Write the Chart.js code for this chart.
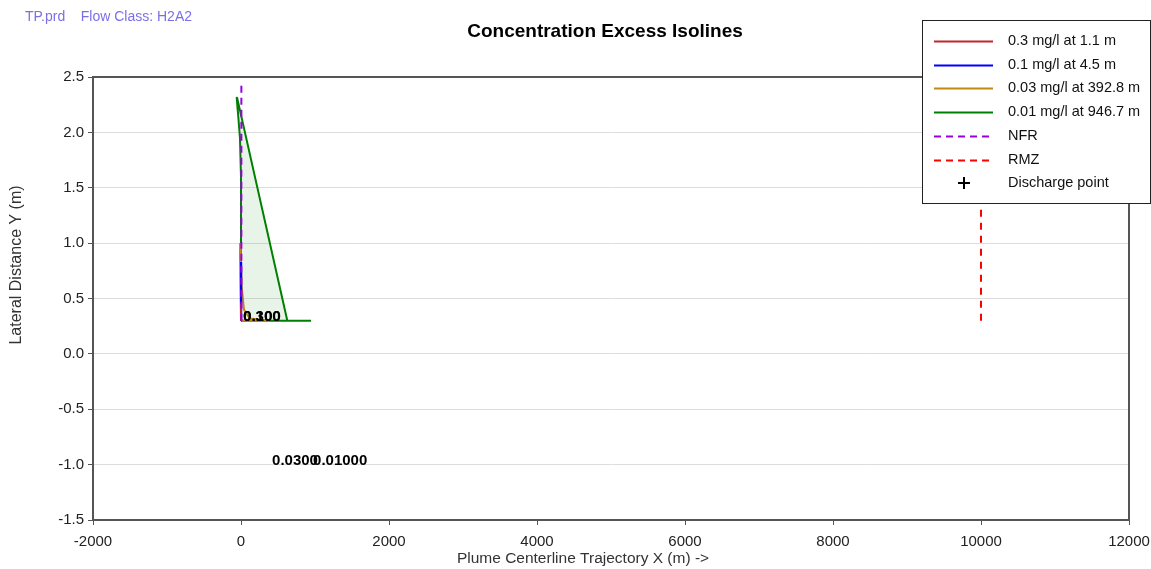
<!DOCTYPE html>
<html>
<head>
<meta charset="utf-8">
<script src="https://cdn.jsdelivr.net/npm/chart.js@4.4.1/dist/chart.umd.min.js"></script>
<style>
  html, body { margin: 0; padding: 0; background: #ffffff; }
  #wrap { width: 1151px; height: 569px; position: relative; }
</style>
</head>
<body>
<div id="wrap"><canvas id="c" width="1151" height="569"></canvas></div>
<script>
// ---- Data ----
const headerText = 'TP.prd    Flow Class: H2A2';
const chartTitle = 'Concentration Excess Isolines';
const xAxisTitle = 'Plume Centerline Trajectory X (m) ->';
const yAxisTitle = 'Lateral Distance Y (m)';

const xMin = -2000, xMax = 12000, xStep = 2000;
const yMin = -1.5, yMax = 2.5, yStep = 0.5;

// isoline outlines
const redX = [0, 0, 0.6, 1.1, 0];
const redY = [0.3, 0.45, 0.42, 0.3, 0.3];
const blueX = [0, -2, 0, 3, 4.5, 0];
const blueY = [0.3, 0.7, 0.83, 0.6, 0.3, 0.3];
const orangeX = [0, -8, -14, -12, -4, 10, 40, 120, 392.8, 0];
const orangeY = [0.3, 0.7, 0.88, 1.0, 0.9, 0.6, 0.4, 0.32, 0.3, 0.3];
const greenX = [0, 0, -14, -58, -45, -36, 626, 946.7, 0];
const greenY = [0.3, 1.6, 1.95, 2.32, 2.2, 2.265, 0.3, 0.3, 0.3];

// boundaries
const nfrX = [5, 5];
const nfrY = [0.3, 2.45];
const rmzX = [10000, 10000];
const rmzY = [0.3, 2.45];

// isoline value labels
const labelTexts = ['0.300', '0.100', '0.0300', '0.01000'];
const labelX = [1.1, 4.5, 392.8, 946.7];
const labelY = [0.3, 0.3, -1.0, -1.0];

// legend
const legendLabels = ['0.3 mg/l at 1.1 m', '0.1 mg/l at 4.5 m', '0.03 mg/l at 392.8 m', '0.01 mg/l at 946.7 m', 'NFR', 'RMZ', 'Discharge point'];
const legendColors = ['#c0272d', '#0000ff', '#c08a10', '#008000', '#9900dd', '#ff0000', '#000000'];
const legendKinds = ['line', 'line', 'line', 'line', 'dash', 'dash', 'plus'];

const FONT = "'Liberation Sans', Arial, sans-serif";

function pts(xs, ys) { return xs.map((x, i) => ({ x: x, y: ys[i] })); }

const datasets = [
  { label: legendLabels[0], data: pts(redX, redY), borderColor: legendColors[0], borderWidth: 2, order: 1 },
  { label: legendLabels[1], data: pts(blueX, blueY), borderColor: legendColors[1], borderWidth: 2, order: 2 },
  { label: legendLabels[2], data: pts(orangeX, orangeY), borderColor: legendColors[2], borderWidth: 2, order: 3 },
  { label: legendLabels[3], data: pts(greenX, greenY), borderColor: legendColors[3], borderWidth: 2, order: 4,
    fill: 'shape', backgroundColor: 'rgba(0,128,0,0.085)' },
  { label: legendLabels[4], data: pts(nfrX, nfrY), borderColor: legendColors[4], borderWidth: 2, borderDash: [7, 5], order: 0 },
  { label: legendLabels[5], data: pts(rmzX, rmzY), borderColor: legendColors[5], borderWidth: 2, borderDash: [7, 6], order: 0 }
].map(d => Object.assign({ showLine: true, pointRadius: 0, pointHoverRadius: 0, tension: 0, fill: false }, d));

const decorPlugin = {
  id: 'decor',
  beforeDatasetsDraw(chart) {
    const ctx = chart.ctx, a = chart.chartArea;
    ctx.save();
    ctx.strokeStyle = '#555';
    ctx.lineWidth = 2;
    ctx.beginPath();
    ctx.moveTo(a.left, a.top);
    ctx.lineTo(a.right, a.top);
    ctx.lineTo(a.right, a.bottom);
    ctx.stroke();
    ctx.restore();
  },
  afterDatasetsDraw(chart) {
    const ctx = chart.ctx, xs = chart.scales.x, ys = chart.scales.y;
    ctx.save();
    ctx.font = 'bold 15px ' + FONT;
    ctx.fillStyle = '#000';
    ctx.textAlign = 'left';
    ctx.textBaseline = 'alphabetic';
    labelTexts.forEach((t, i) => {
      ctx.fillText(t, xs.getPixelForValue(labelX[i]) + 2, ys.getPixelForValue(labelY[i]));
    });
    ctx.restore();
  },
  afterDraw(chart) {
    const ctx = chart.ctx;
    ctx.save();
    // header
    ctx.font = '14px ' + FONT;
    ctx.fillStyle = '#7b6fe6';
    ctx.textAlign = 'left';
    ctx.textBaseline = 'middle';
    ctx.fillText(headerText, 25, 17);
    // title
    ctx.font = 'bold 19px ' + FONT;
    ctx.fillStyle = '#000';
    ctx.textAlign = 'center';
    ctx.fillText(chartTitle, 605, 32);
    // axis titles
    ctx.font = '15.5px ' + FONT;
    ctx.fillStyle = '#333';
    ctx.fillText(xAxisTitle, 583, 559);
    ctx.save();
    ctx.translate(17, 265);
    ctx.rotate(-Math.PI / 2);
    ctx.font = '16px ' + FONT;
    ctx.fillText(yAxisTitle, 0, 0);
    ctx.restore();
    // legend box
    const lx = 922.5, ly = 20.5, lw = 228, lh = 183;
    ctx.fillStyle = '#fff';
    ctx.fillRect(lx, ly, lw, lh);
    ctx.strokeStyle = '#222';
    ctx.lineWidth = 1;
    ctx.strokeRect(lx, ly, lw, lh);
    ctx.font = '14.5px ' + FONT;
    ctx.textAlign = 'left';
    ctx.textBaseline = 'middle';
    legendLabels.forEach((lab, i) => {
      const y = 41 + i * 23.7;
      const c = legendColors[i];
      ctx.strokeStyle = c;
      ctx.lineWidth = 2;
      if (legendKinds[i] === 'line' || legendKinds[i] === 'dash') {
        ctx.setLineDash(legendKinds[i] === 'dash' ? [7, 5] : []);
        ctx.beginPath();
        ctx.moveTo(934, Math.round(y) + 0.5);
        ctx.lineTo(993, Math.round(y) + 0.5);
        ctx.stroke();
        ctx.setLineDash([]);
      } else {
        ctx.beginPath();
        ctx.moveTo(958, Math.round(y));
        ctx.lineTo(970, Math.round(y));
        ctx.moveTo(964, Math.round(y) - 6);
        ctx.lineTo(964, Math.round(y) + 6);
        ctx.stroke();
      }
      ctx.fillStyle = '#111';
      ctx.fillText(lab, 1008, y);
    });
    ctx.restore();
  }
};

new Chart(document.getElementById('c'), {
  type: 'scatter',
  data: { datasets: datasets },
  options: {
    responsive: false,
    animation: false,
    events: [],
    layout: { padding: { top: 77, right: 22, left: 0, bottom: 0 } },
    plugins: { legend: { display: false }, title: { display: false }, tooltip: { enabled: false } },
    scales: {
      x: {
        type: 'linear', min: xMin, max: xMax,
        afterFit(s) { s.height = 49; s.paddingLeft = 0; s.paddingRight = 0; },
        ticks: { stepSize: xStep, callback: v => String(v), color: '#222', padding: 8, maxRotation: 0,
                 font: { family: FONT, size: 15 } },
        grid: { drawOnChartArea: false, drawTicks: true, tickLength: 5, tickColor: '#555' },
        border: { color: '#555', width: 2 }
      },
      y: {
        type: 'linear', min: yMin, max: yMax,
        afterFit(s) { s.width = 93; s.paddingTop = 0; s.paddingBottom = 0; },
        ticks: { stepSize: yStep, callback: v => Number(v).toFixed(1), color: '#222', padding: 4,
                 font: { family: FONT, size: 15 } },
        grid: { color: '#dddddd', lineWidth: 1, drawTicks: true, tickLength: 5, tickColor: '#555' },
        border: { color: '#555', width: 2 }
      }
    }
  },
  plugins: [decorPlugin]
});
</script>
</body>
</html>
